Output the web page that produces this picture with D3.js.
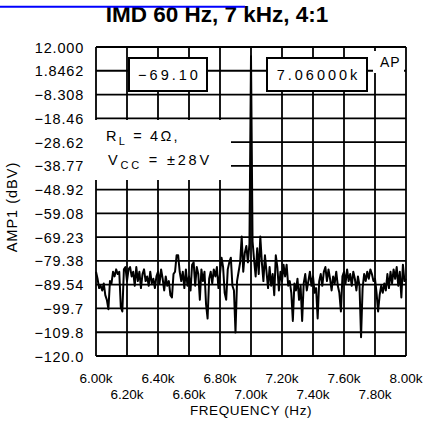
<!DOCTYPE html>
<html><head><meta charset="utf-8">
<script src="https://cdn.jsdelivr.net/npm/d3@7"></script>
<style>
html,body{margin:0;padding:0;background:#fff;}
svg{display:block;}
text{font-family:"Liberation Sans",Arial,sans-serif;fill:#000;}
</style></head>
<body>
<svg id="c" width="429" height="432"></svg>
<script>
const title = "IMD 60 Hz, 7 kHz, 4:1";
const yTickLabels = ["12.000","1.8462","\u22128.308","\u221218.46","\u221228.62","\u221238.77","\u221248.92","\u221259.08","\u221269.23","\u221279.38","\u221289.54","\u221299.7","\u2212109.8","\u2212120.0"];
const xTickValues = [6000,6200,6400,6600,6800,7000,7200,7400,7600,7800,8000];
const xTickLabels = ["6.00k","6.20k","6.40k","6.60k","6.80k","7.00k","7.20k","7.40k","7.60k","7.80k","8.00k"];
const yMin = -120, yMax = 12;
const freqStart = 6000, freqStep = 10;
const amp = [
-84,-87,-91,-90,-92,-89,-94,-96,-100,-88,
-89,-84,-86,-83,-85,-84,-99,-101,-83,-82,
-88,-83,-82,-86,-84,-90,-82,-88,-84,-91,
-85,-83,-88,-86,-90,-84,-89,-87,-91,-86,
-84,-89,-83,-87,-92,-86,-90,-88,-94,-95,
-85,-84,-77,-77,-84,-88,-84,-91,-83,-90,
-86,-92,-81,-80,-90,-82,-85,-96,-83,-88,
-84,-98,-104,-87,-84,-89,-83,-86,-82,-91,
-85,-78,-82,-93,-96,-83,-80,-78,-90,-92,
-110,-88,-84,-80,-69,-84,-76,-73,-80,-72,
8,-71,-79,-86,-74,-85,-69,-80,-88,-77,
-84,-91,-82,-90,-85,-94,-77,-82,-92,-84,
-88,-81,-86,-81,-90,-88,-93,-105,-89,-92,
-87,-96,-90,-105,-89,-85,-92,-88,-84,-90,
-86,-93,-91,-104,-88,-85,-90,-84,-82,-88,
-83,-87,-92,-86,-89,-84,-90,-93,-101,-86,
-84,-89,-83,-88,-85,-90,-84,-87,-92,-86,
-90,-112,-91,-85,-88,-84,-87,-83,-85,-88,
-87,-93,-101,-94,-90,-93,-89,-92,-85,-91,
-84,-89,-83,-87,-82,-90,-84,-95,-81,-88,
-87];
const readoutAmp = "\u221269.10";
const readoutFreq = "7.06000k";
const yTitle = "AMP1 (dBV)";
const xTitle = "FREQUENCY (Hz)";

const svg = d3.select("#c");
const L = 96, R = 406, T = 47, B = 356;
const x = d3.scaleLinear().domain([6000, 8000]).range([L, R]);
const y = d3.scaleLinear().domain([yMin, yMax]).range([B, T]);
const yTickValues = d3.range(yTickLabels.length).map(i => yMax - i * (yMax - yMin) / (yTickLabels.length - 1));

// grid
const g = svg.append("g");
g.selectAll("line.v").data(xTickValues).join("line")
  .attr("x1", d => x(d)).attr("x2", d => x(d)).attr("y1", T).attr("y2", B)
  .attr("stroke", "#000").attr("stroke-width", 1.8);
g.selectAll("line.h").data(yTickValues).join("line")
  .attr("x1", L).attr("x2", R).attr("y1", d => y(d)).attr("y2", d => y(d))
  .attr("stroke", "#000").attr("stroke-width", 1.8);

// y tick labels
svg.append("g").selectAll("text").data(yTickValues).join("text")
  .attr("x", 84).attr("y", d => y(d) + 5.5)
  .attr("text-anchor", "end").attr("font-size", 14.5).attr("letter-spacing", 0.8)
  .text((d, i) => yTickLabels[i]);

// x tick labels, two rows
svg.append("g").selectAll("text").data(xTickValues).join("text")
  .attr("x", d => x(d)).attr("y", (d, i) => i % 2 === 0 ? 383 : 399)
  .attr("text-anchor", "middle").attr("font-size", 13.5)
  .text((d, i) => xTickLabels[i]);

svg.append("text").attr("x", x(7000)).attr("y", 415).attr("text-anchor", "middle")
  .attr("font-size", 13.5).attr("letter-spacing", 0.6).text(xTitle);
svg.append("text").attr("transform", `translate(17,207) rotate(-90)`)
  .attr("text-anchor", "middle").attr("font-size", 14.5).attr("letter-spacing", 1).text(yTitle);

// trace
const line = d3.line().x((d, i) => x(freqStart + i * freqStep)).y(d => y(d));
svg.append("path").datum(amp).attr("d", line).attr("fill", "none")
  .attr("stroke", "#000").attr("stroke-width", 2).attr("stroke-linejoin", "round");

// annotation boxes
function box(x0, y0, w, h, txt) {
  svg.append("rect").attr("x", x0).attr("y", y0).attr("width", w).attr("height", h)
    .attr("fill", "#fff").attr("stroke", "#000").attr("stroke-width", 2);
  svg.append("text").attr("x", x0 + w / 2 + 1.5).attr("y", y0 + 22).attr("text-anchor", "middle")
    .attr("font-size", 14.5).attr("letter-spacing", 3).text(txt);
}
box(129, 58, 78, 33, readoutAmp);
box(267, 58, 100, 33, readoutFreq);

// AP label
svg.append("rect").attr("x", 373).attr("y", 51).attr("width", 31).attr("height", 22).attr("fill", "#fff");
svg.append("text").attr("x", 380).attr("y", 67).attr("font-size", 14).attr("letter-spacing", 1).text("AP");

// conditions
svg.append("rect").attr("x", 95).attr("y", 120).attr("width", 136).attr("height", 60).attr("fill", "#fff");
const t1 = svg.append("text").attr("x", 106).attr("y", 141).attr("font-size", 14.5).attr("letter-spacing", 2.2);
t1.append("tspan").text("R");
t1.append("tspan").attr("dy", 4).attr("font-size", 11).text("L");
t1.append("tspan").attr("dy", -4).text(" = 4\u03a9,");
const t2 = svg.append("text").attr("x", 108).attr("y", 165).attr("font-size", 14.5).attr("letter-spacing", 2.8);
t2.append("tspan").text("V");
t2.append("tspan").attr("dy", 4).attr("font-size", 11).text("CC");
t2.append("tspan").attr("dy", -4).text(" = \u00b128V");

// title and blue line
svg.append("text").attr("x", 217).attr("y", 21.5).attr("text-anchor", "middle")
  .attr("font-size", 22.5).attr("font-weight", "bold").text(title);
svg.append("line").attr("x1", 0).attr("x2", 245).attr("y1", 6.7).attr("y2", 6.7)
  .attr("stroke", "#0000ff").attr("stroke-width", 2);
</script>
</body></html>
